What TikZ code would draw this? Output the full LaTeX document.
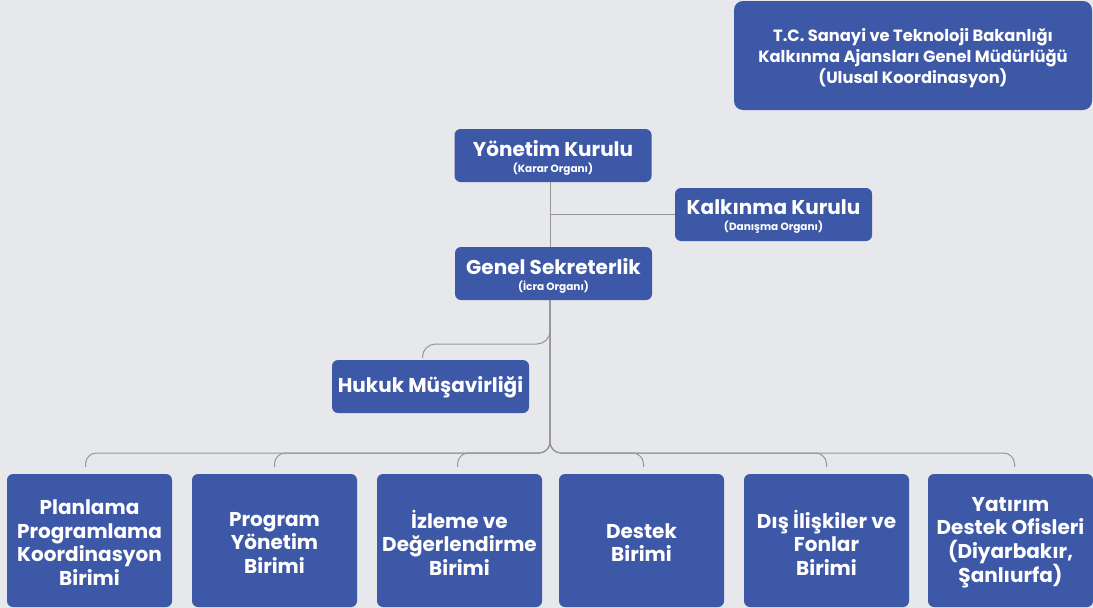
\documentclass[tikz,border=0pt]{standalone}
\usepackage{fontspec}
\setmainfont{Poppins}
\definecolor{bg}{RGB}{231,232,235}
\definecolor{boxblue}{RGB}{62,88,168}
\definecolor{lin}{RGB}{150,150,150}
\begin{document}
\begin{tikzpicture}[x=1pt,y=-1pt,
  box/.style={fill=boxblue, rounded corners=6pt, inner sep=0pt},
  midbox/.style={box, minimum width=197pt, minimum height=53pt},
  botbox/.style={box, minimum width=165pt, minimum height=133pt},
  txt/.style={text=white, align=center, inner sep=0pt, yshift=-2pt},
  midtxt/.style={txt, font=\bfseries\fontsize{20}{20}\selectfont},
  bottxt/.style={txt, font=\bfseries\fontsize{20}{23.5}\selectfont},
  conn/.style={draw=lin, line width=1pt, rounded corners=11pt}]
\fill[bg] (0,0) rectangle (1093,608);
\useasboundingbox (0,0) rectangle (1093,608);

\node[box, minimum width=358pt, minimum height=109pt, rounded corners=9pt] (mof) at (913,55.5) {};
\node[txt, yshift=-1pt, font=\bfseries\fontsize{16.3}{21}\selectfont] (moft) at (mof.center) {T.C. Sanayi ve Teknoloji Bakanlığı\\Kalkınma Ajansları Genel Müdürlüğü\\(Ulusal Koordinasyon)};

\node[midbox] (yk) at (553,155.5) {};
\node[midbox] (kk) at (773.5,214.5) {};
\node[midbox] (gs) at (553.5,273.5) {};
\node[midbox] (hm) at (430.5,386.5) {};
\node[midtxt] (ykt) at (yk.center) {Yönetim Kurulu\\[-4pt]{\fontsize{10.5}{12}\selectfont (Karar Organı)}};
\node[midtxt] (kkt) at (kk.center) {Kalkınma Kurulu\\[-4pt]{\fontsize{10.5}{12}\selectfont (Danışma Organı)}};
\node[midtxt] (gst) at (gs.center) {Genel Sekreterlik\\[-4pt]{\fontsize{10.5}{12}\selectfont (İcra Organı)}};
\node[midtxt, yshift=1pt] (hmt0) at (hm.center) {Hukuk Müşavirliği};

\node[botbox] (b1) at (89.5,540.5) {};
\node[botbox] (b2) at (274.5,540.5) {};
\node[botbox] (b3) at (459.5,540.5) {};
\node[botbox] (b4) at (641.5,540.5) {};
\node[botbox] (b5) at (826.5,540.5) {};
\node[botbox] (b6) at (1010.5,540.5) {};
\node[bottxt] (b1x) at (b1.center) {Planlama\\Programlama\\Koordinasyon\\Birimi};
\node[bottxt] (b2x) at (b2.center) {Program\\Yönetim\\Birimi};
\node[bottxt] (b3x) at (b3.center) {İzleme ve\\Değerlendirme\\Birimi};
\node[bottxt] (b4x) at (b4.center) {Destek\\Birimi};
\node[bottxt] (b5x) at (b5.center) {Dış İlişkiler ve\\Fonlar\\Birimi};
\node[bottxt] (b6x) at (b6.center) {Yatırım\\Destek Ofisleri\\(Diyarbakır,\\Şanlıurfa)};

\coordinate (spine) at (550,0);
\coordinate (hy) at (0,344);
\coordinate (bus) at (0,453);
\coordinate (hmt) at ([xshift=-8pt,yshift=2pt]hm.north);
\coordinate (b1t) at ([xshift=-4pt,yshift=7pt]b1.north);
\coordinate (b2t) at ([xshift=0pt,yshift=7pt]b2.north);
\coordinate (b3t) at ([xshift=-2pt,yshift=7pt]b3.north);
\coordinate (b4t) at ([xshift=2pt,yshift=7pt]b4.north);
\coordinate (b5t) at ([xshift=0pt,yshift=7pt]b5.north);
\coordinate (b6t) at ([xshift=4pt,yshift=7pt]b6.north);

\draw[conn] (yk.south -| spine) -- (gs.north -| spine);
\draw[conn] (spine |- kk.west) -- (kk.west);
\draw[conn, rounded corners=13pt] (gs.south -| spine) -- (spine |- hy) -- (hmt |- hy) -- (hmt);
\foreach \b in {b1t,b2t,b3t,b4t,b5t,b6t}
  \draw[conn] (gs.south -| spine) -- (spine |- bus) -- (\b |- bus) -- (\b);
\end{tikzpicture}
\end{document}
